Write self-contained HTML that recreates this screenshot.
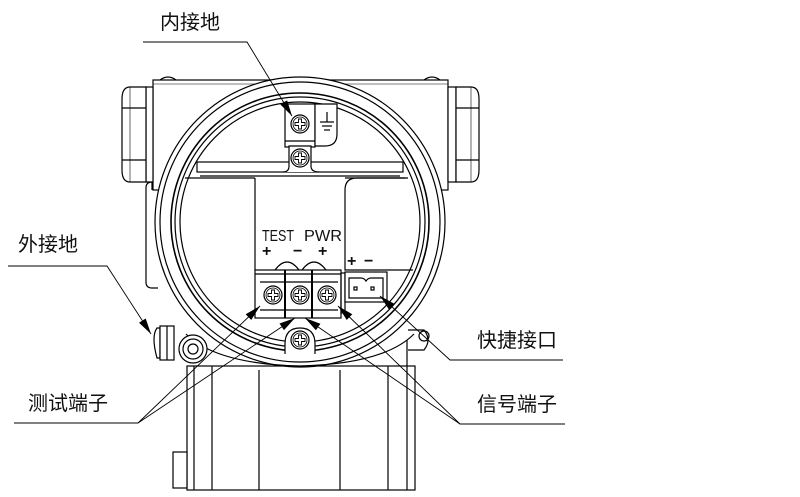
<!DOCTYPE html>
<html><head><meta charset="utf-8"><style>
html,body{margin:0;padding:0;background:#fff}
svg{display:block}
text{font-family:"Liberation Sans","Noto Sans CJK SC",sans-serif;fill:#111}
</style></head><body>
<svg width="800" height="497" viewBox="0 0 800 497" xmlns="http://www.w3.org/2000/svg">
<defs>
<marker id="ar" viewBox="0 0 16 8" refX="16" refY="4" markerWidth="16" markerHeight="8" orient="auto" markerUnits="userSpaceOnUse">
<path d="M0,0 L16,4 L0,8 Z" fill="#000"/></marker>
<g id="scr"><circle r="9" fill="#fff" stroke="#000" stroke-width="1.2"/><circle r="7" fill="none" stroke="#000" stroke-width="0.8"/>
<path d="M-1.5,-5 h3 v3.5 h3.5 v3 h-3.5 v3.5 h-3 v-3.5 h-3.5 v-3 h3.5 z" fill="#fff" stroke="#000" stroke-width="0.9"/></g>
</defs>
<g fill="none" stroke="#000" stroke-width="1.2">
<rect x="153" y="80" width="295" height="110" fill="#fff"/>
<line x1="153" y1="84" x2="448" y2="84" stroke-width="0.6"/>
<path d="M160,80 q8,-6 16,0 M440,80 q-8,-6 -16,0" />
<rect x="146" y="87" width="7" height="95" fill="#fff"/>
<path d="M146,87 h-16 q-8,0 -8,12 v71 q0,12 8,12 h16 z" fill="#fff"/>
<line x1="122" y1="108" x2="146" y2="108"/><line x1="122" y1="160" x2="146" y2="160"/>
<line x1="130" y1="87" x2="130" y2="182" stroke-width="0.6"/>
<rect x="448" y="87" width="8" height="95" fill="#fff"/>
<path d="M456,87 h15 q8,0 8,12 v71 q0,12 -8,12 h-15 z" fill="#fff"/>
<line x1="456" y1="108" x2="479" y2="108"/><line x1="456" y1="160" x2="479" y2="160"/>
<line x1="471" y1="87" x2="471" y2="182" stroke-width="0.6"/>
<path d="M152,190 v-8 q-6,0 -6,6 v94 q0,6 6,6 h6" fill="#fff"/>
<rect x="187" y="366" width="228" height="124" fill="#fff"/>
<line x1="194" y1="366" x2="194" y2="490"/><line x1="212" y1="366" x2="212" y2="490"/>
<line x1="259" y1="370" x2="259" y2="490"/><line x1="340" y1="370" x2="340" y2="490"/>
<line x1="388" y1="366" x2="388" y2="490"/><line x1="407" y1="340" x2="407" y2="490"/>
<rect x="173" y="452" width="14" height="36" fill="#fff"/>
<path d="M408,330 h16 q8,10 0,20 h-16" fill="#fff"/>
<circle cx="424" cy="336" r="5"/>
<circle cx="300" cy="222" r="145" fill="#fff"/>
<circle cx="300" cy="222" r="140"/>
<circle cx="300" cy="222" r="129" stroke-width="1.6"/>
<circle cx="300" cy="222" r="125"/>
<circle cx="300" cy="222" r="120"/>
<path d="M186,334 q30,30 114,32 q84,-2 114,-32" />
<rect x="197" y="162" width="206" height="10" fill="#fff"/>
<line x1="200" y1="176" x2="400" y2="176"/>
<path d="M255,178 h-70 M345,178 h63"/>
<path d="M255,178 v92" />
<path d="M345,190 q0,-12 12,-12 h48 M345,190 v80 h68"/>
<rect x="285" y="104" width="30" height="43" fill="#fff"/>
<path d="M315,104 h22 v30 q0,12 -12,12 h-10 z" fill="#fff"/>
<line x1="285" y1="141" x2="315" y2="141"/>
<path d="M283,172 q6,0 6,-6 v-20 h22 v20 q0,6 8,6" fill="#fff"/>
<line x1="327" y1="112" x2="327" y2="122"/><line x1="320" y1="122" x2="334" y2="122"/>
<line x1="322" y1="126" x2="332" y2="126"/><line x1="324" y1="130" x2="330" y2="130"/>
<path d="M275,270 q12,-16 24,0 M302,270 q12,-16 24,0"/>
<rect x="255" y="270" width="86" height="48" fill="#fff"/>
<line x1="255" y1="274" x2="341" y2="274"/>
<line x1="285" y1="270" x2="285" y2="318" stroke-width="2"/><line x1="312" y1="270" x2="312" y2="318" stroke-width="2"/>
<line x1="260" y1="282" x2="338" y2="282"/><line x1="260" y1="310" x2="338" y2="310"/>
<rect x="341" y="273" width="4" height="40"/>
<rect x="345" y="272" width="42" height="30" fill="#fff"/>
<path d="M349,278 h12 q3,0 5,3 q2,-3 5,-3 h12 v20 h-34 z"/>
<rect x="354" y="287" width="3" height="3"/><rect x="371" y="287" width="3" height="3"/>
<path d="M285,354 v-10 q0,-16 15,-16 q15,0 15,16 v10" fill="#fff"/>
<path d="M160,328 h-3 q-6,8 0,30 h3 z" fill="#fff"/>
<rect x="160" y="326" width="14" height="34" fill="#fff"/>
<line x1="167" y1="326" x2="167" y2="360"/>
<circle cx="193" cy="349" r="14" fill="#fff"/><circle cx="193" cy="349" r="10"/><circle cx="193" cy="349" r="5"/>
</g>
<use href="#scr" x="300" y="124"/><use href="#scr" x="300" y="158"/>
<use href="#scr" x="273" y="295"/><use href="#scr" x="300" y="295"/><use href="#scr" x="327" y="295"/>
<use href="#scr" x="300" y="340"/>
<g font-size="16">
<text x="262" y="241" textLength="32" lengthAdjust="spacingAndGlyphs">TEST</text><text x="304" y="241" textLength="38" lengthAdjust="spacingAndGlyphs">PWR</text>
<text x="262" y="256" font-weight="bold">+</text><text x="293" y="256" font-weight="bold">−</text><text x="318" y="256" font-weight="bold">+</text>
<text x="347" y="266" font-weight="bold">+</text><text x="364" y="266" font-weight="bold">−</text>
</g>
<g fill="none" stroke="#000" stroke-width="0.9">
<polyline points="143,42 247,42 292,116" marker-end="url(#ar)"/>
<polyline points="8,266 107,266 151,334" marker-end="url(#ar)"/>
<polyline points="14,423 138,423 260,306" marker-end="url(#ar)"/>
<polyline points="138,423 295,318" marker-end="url(#ar)"/>
<polyline points="563,360 450,360 380,296" marker-end="url(#ar)"/>
<polyline points="565,424 460,424 338,306" marker-end="url(#ar)"/>
<polyline points="460,424 305,318" marker-end="url(#ar)"/>
</g>
<g font-size="20">
<text x="160" y="29">内接地</text>
<text x="18" y="251">外接地</text>
<text x="28" y="410">测试端子</text>
<text x="477" y="347">快捷接口</text>
<text x="477" y="411">信号端子</text>
</g>
</svg>
</body></html>
